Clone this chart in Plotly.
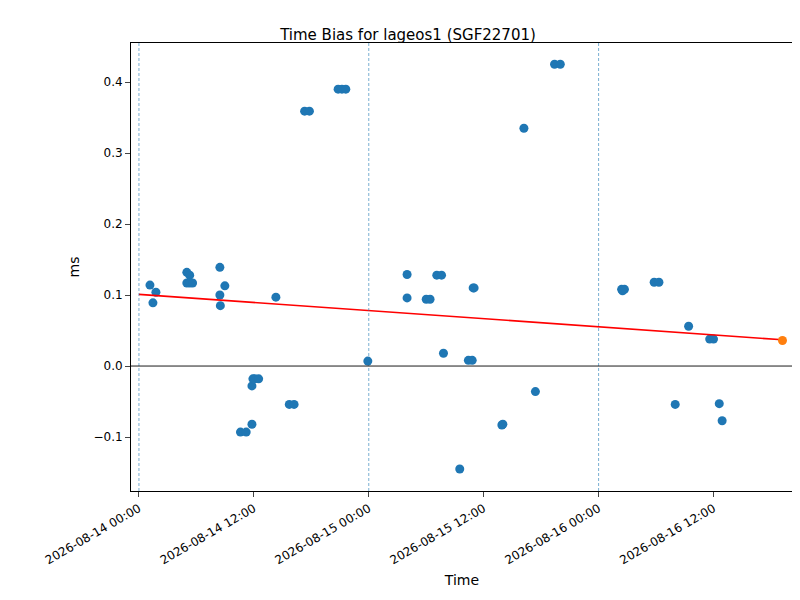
import pandas as pd
import plotly.graph_objects as go

t0 = pd.Timestamp("2026-08-14 00:00")

hours = [1.15, 1.46, 1.77, 5.0, 5.3, 5.0, 5.3, 5.6, 8.45, 8.45, 8.5, 8.97,
         10.6, 11.2, 11.8, 11.9, 12.1, 12.5, 11.8, 14.3, 15.7, 16.2,
         17.3, 17.8, 20.8, 21.2, 21.6, 23.9, 28.0, 28.0, 30.0, 30.4,
         31.1, 31.6, 31.8, 33.5, 34.4, 34.8, 34.9, 35.0, 37.9, 38.0, 40.2, 41.4,
         43.4, 44.0, 50.4, 50.7, 50.5, 53.8, 54.3, 56.0, 57.4, 59.6, 60.0,
         60.6, 60.9]
bias = [0.114, 0.089, 0.104, 0.132, 0.128, 0.117, 0.117, 0.117, 0.139, 0.100, 0.085, 0.113,
        -0.093, -0.093, -0.028, -0.018, -0.018, -0.018, -0.082, 0.097, -0.054, -0.054,
        0.359, 0.359, 0.390, 0.390, 0.390, 0.007, 0.129, 0.096, 0.094, 0.094,
        0.128, 0.128, 0.018, -0.145, 0.008, 0.008, 0.110, 0.110, -0.083, -0.082, 0.335, -0.036,
        0.425, 0.425, 0.108, 0.108, 0.106, 0.118, 0.118, -0.054, 0.056, 0.038, 0.038,
        -0.053, -0.077]

last_hour = [67.2]
last_bias = [0.036]

trend_hours = [0.0, 67.2]
trend_bias = [0.101, 0.037]

day_lines = [0, 24, 48]

to_t = lambda hs: [t0 + pd.Timedelta(hours=h) for h in hs]

fig = go.Figure()
fig.add_trace(go.Scatter(x=to_t(hours), y=bias, mode="markers",
                         marker=dict(color="#1f77b4", size=9)))
fig.add_trace(go.Scatter(x=to_t(trend_hours), y=trend_bias, mode="lines",
                         line=dict(color="red", width=1.6)))
fig.add_trace(go.Scatter(x=to_t(last_hour), y=last_bias, mode="markers",
                         marker=dict(color="#ff7f0e", size=9)))

for h in day_lines:
    fig.add_vline(x=t0 + pd.Timedelta(hours=h), line=dict(color="#1f77b4", width=0.6, dash="3px,2px"))
fig.add_hline(y=0, line=dict(color="black", width=0.9))

fig.update_layout(
    width=800, height=600,
    title=dict(text="Time Bias for lageos1 (SGF22701)", x=0.5, xanchor="center",
               y=0.965, font=dict(size=15, color="black")),
    font=dict(family="DejaVu Sans", size=12, color="black"),
    plot_bgcolor="white", paper_bgcolor="white",
    showlegend=False,
    margin=dict(l=123, r=15, t=35, b=117),
    xaxis=dict(range=[t0 - pd.Timedelta(hours=0.83), t0 + pd.Timedelta(hours=68.3)],
               tickvals=to_t([0, 12, 24, 36, 48, 60]),
               ticktext=["2026-08-14 00:00", "2026-08-14 12:00", "2026-08-15 00:00",
                         "2026-08-15 12:00", "2026-08-16 00:00", "2026-08-16 12:00"],
               tickangle=-30, ticks="outside", showgrid=False, zeroline=False,
               showline=True, linecolor="black", mirror=True, automargin=False,
               title=dict(text="Time", standoff=8)),
    yaxis=dict(range=[-0.176, 0.455], tickvals=[-0.1, 0, 0.1, 0.2, 0.3, 0.4],
               tickformat=".1f", ticks="outside", showgrid=False, zeroline=False,
               showline=True, linecolor="black", mirror=True, automargin=False,
               title=dict(text="ms", standoff=10)),
)

fig.write_html("out.html")
